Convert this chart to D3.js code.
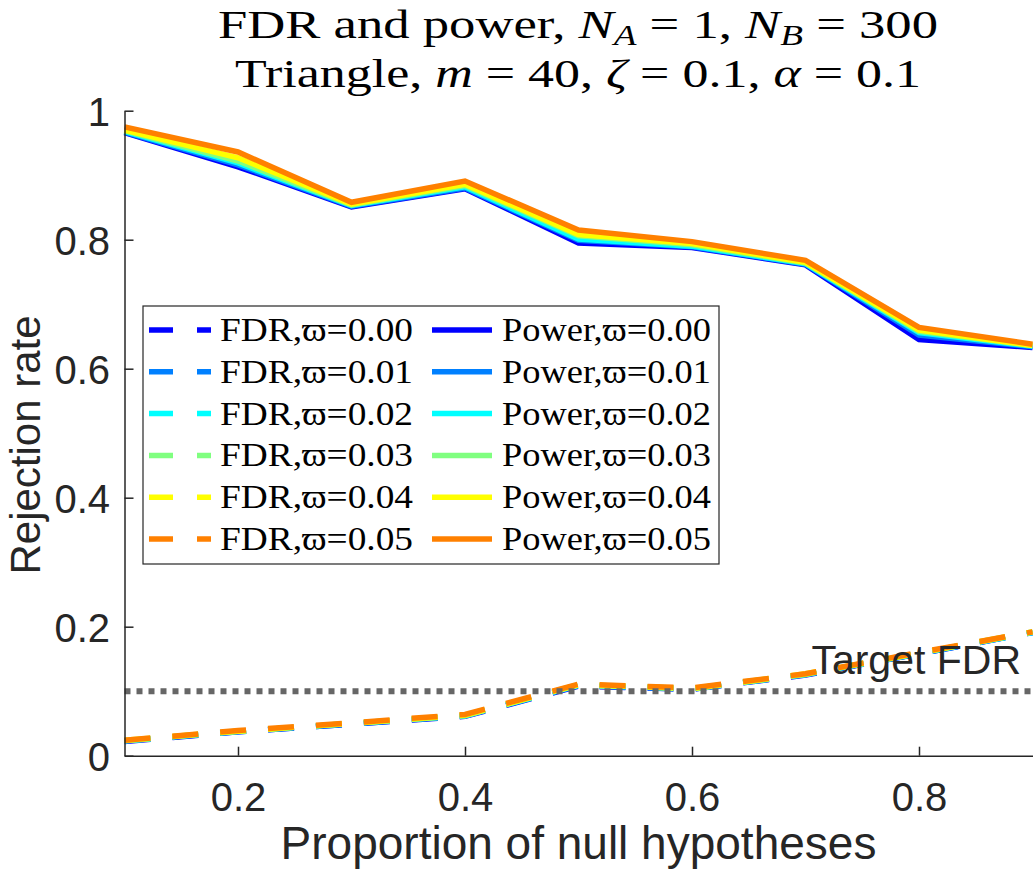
<!DOCTYPE html>
<html>
<head>
<meta charset="utf-8">
<script src="https://cdn.jsdelivr.net/npm/d3@7"></script>
<style>
  html, body { margin: 0; padding: 0; background: #fff; }
  svg { display: block; }
</style>
</head>
<body>
<div id="canvas"></div>
<script>
"use strict"

// x values: proportion of null hypotheses
let proportions = [0.1, 0.2, 0.3, 0.4, 0.5, 0.6, 0.7, 0.8, 0.9];
let varpiValues = ["0.00", "0.01", "0.02", "0.03", "0.04", "0.05"];

// FDR curves (dashed), one per varpi
let fdr000 = [0.022, 0.037, 0.049, 0.061, 0.108, 0.103, 0.125, 0.158, 0.191];
let fdr001 = [0.023, 0.037, 0.049, 0.062, 0.109, 0.103, 0.126, 0.158, 0.191];
let fdr002 = [0.023, 0.038, 0.050, 0.062, 0.109, 0.104, 0.126, 0.159, 0.191];
let fdr003 = [0.023, 0.038, 0.050, 0.062, 0.110, 0.104, 0.126, 0.159, 0.192];
let fdr004 = [0.024, 0.038, 0.050, 0.063, 0.110, 0.104, 0.127, 0.159, 0.192];
let fdr005 = [0.024, 0.039, 0.051, 0.064, 0.111, 0.105, 0.127, 0.160, 0.192];

// Power curves (solid), one per varpi
let power000 = [0.966, 0.913, 0.851, 0.879, 0.795, 0.788, 0.761, 0.645, 0.633];
let power001 = [0.967, 0.916, 0.852, 0.880, 0.799, 0.789, 0.762, 0.652, 0.634];
let power002 = [0.968, 0.919, 0.853, 0.882, 0.801, 0.790, 0.763, 0.656, 0.635];
let power003 = [0.969, 0.922, 0.854, 0.884, 0.806, 0.792, 0.764, 0.658, 0.636];
let power004 = [0.970, 0.927, 0.855, 0.886, 0.808, 0.794, 0.765, 0.660, 0.636];
let power005 = [0.975, 0.936, 0.858, 0.891, 0.815, 0.797, 0.768, 0.664, 0.638];

let targetFDR = 0.1;

let xTicks = [0.2, 0.4, 0.6, 0.8];
let xTickLabels = ["0.2", "0.4", "0.6", "0.8"];
let yTicks = [0, 0.2, 0.4, 0.6, 0.8, 1];
let yTickLabels = ["0", "0.2", "0.4", "0.6", "0.8", "1"];

let fdrSeries = [fdr000, fdr001, fdr002, fdr003, fdr004, fdr005];
let powerSeries = [power000, power001, power002, power003, power004, power005];

// jet(8) colours, first six
let colors = ["#0000ff", "#0080ff", "#00ffff", "#80ff80", "#ffff00", "#ff8000"];

let svgWidth = 1033;
let svgHeight = 878;
let axisColor = "#262626";
let sansFont = "'Liberation Sans', Arial, Helvetica, sans-serif";
let serifFont = "'Liberation Serif', 'Times New Roman', serif";

let svg = d3.select("#canvas")
    .append("svg")
    .attr("width", svgWidth)
    .attr("height", svgHeight);

let xScale = d3.scaleLinear().domain([0.1, 0.9]).range([124.5, 1032.5]);
let yScale = d3.scaleLinear().domain([0, 1]).range([755.7, 110.7]);

let line = d3.line()
    .x(function(d) { return xScale(d[0]); })
    .y(function(d) { return yScale(d[1]); });

function pairs(values) {
    return proportions.map(function(p, i) { return [p, values[i]]; });
}

// FDR dashed lines
for (let i = 0; i < fdrSeries.length; i++) {
    svg.append("path")
        .attr("d", line(pairs(fdrSeries[i])))
        .attr("fill", "none")
        .attr("stroke", colors[i])
        .attr("stroke-width", 5.5)
        .attr("stroke-dasharray", "26,22");
}

// Power solid lines
for (let i = 0; i < powerSeries.length; i++) {
    svg.append("path")
        .attr("d", line(pairs(powerSeries[i])))
        .attr("fill", "none")
        .attr("stroke", colors[i])
        .attr("stroke-width", 5.5)
        .attr("stroke-linejoin", "miter");
}

// target FDR dotted line
svg.append("line")
    .attr("x1", xScale(0.1))
    .attr("x2", xScale(0.9))
    .attr("y1", yScale(targetFDR))
    .attr("y2", yScale(targetFDR))
    .attr("stroke", "#666666")
    .attr("stroke-width", 6)
    .attr("stroke-dasharray", "6,6");

svg.append("text")
    .attr("x", 1021)
    .attr("y", 674)
    .attr("text-anchor", "end")
    .style("font-family", sansFont)
    .style("font-size", "41px")
    .attr("fill", axisColor)
    .text("Target FDR");

// axes
let xAxis = d3.axisBottom(xScale)
    .tickValues(xTicks)
    .tickFormat(function(d, i) { return xTickLabels[i]; })
    .tickSizeInner(-9)
    .tickSizeOuter(0)
    .tickPadding(27);

let yAxis = d3.axisLeft(yScale)
    .tickValues(yTicks)
    .tickFormat(function(d, i) { return yTickLabels[i]; })
    .tickSizeInner(-9)
    .tickSizeOuter(0)
    .tickPadding(14.5);

let gx = svg.append("g")
    .attr("transform", "translate(0," + yScale(0) + ")")
    .call(xAxis);

let gy = svg.append("g")
    .attr("transform", "translate(" + xScale(0.1) + ",0)")
    .call(yAxis);

[gx, gy].forEach(function(g) {
    g.select(".domain").attr("stroke", axisColor).attr("stroke-width", 1.5);
    g.selectAll(".tick line").attr("stroke", axisColor).attr("stroke-width", 1.5);
    g.selectAll(".tick text")
        .attr("fill", axisColor)
        .style("font-family", sansFont)
        .style("font-size", "40px");
});
gy.selectAll(".tick text").attr("dy", "0.36em");

// axis labels
svg.append("text")
    .attr("x", (xScale(0.1) + xScale(0.9)) / 2)
    .attr("y", 859)
    .attr("text-anchor", "middle")
    .style("font-family", sansFont)
    .style("font-size", "46px")
    .attr("fill", axisColor)
    .text("Proportion of null hypotheses");

svg.append("text")
    .attr("transform", "translate(40," + 445 + ") rotate(-90)")
    .attr("text-anchor", "middle")
    .style("font-family", sansFont)
    .style("font-size", "42px")
    .attr("fill", axisColor)
    .text("Rejection rate");

// title, two lines
let t1 = svg.append("text")
    .attr("x", 578)
    .attr("y", 38)
    .attr("text-anchor", "middle")
    .attr("textLength", 720)
    .attr("lengthAdjust", "spacingAndGlyphs")
    .style("font-family", serifFont)
    .style("font-size", "41px")
    .attr("fill", "#000");
t1.append("tspan").text("FDR and power, ");
t1.append("tspan").style("font-style", "italic").text("N");
t1.append("tspan").style("font-style", "italic").style("font-size", "29px").attr("dy", 7).text("A");
t1.append("tspan").attr("dy", -7).text(" = 1, ");
t1.append("tspan").style("font-style", "italic").text("N");
t1.append("tspan").style("font-style", "italic").style("font-size", "29px").attr("dy", 7).text("B");
t1.append("tspan").attr("dy", -7).text(" = 300");

let t2 = svg.append("text")
    .attr("x", 578)
    .attr("y", 87)
    .attr("text-anchor", "middle")
    .attr("textLength", 686)
    .attr("lengthAdjust", "spacingAndGlyphs")
    .style("font-family", serifFont)
    .style("font-size", "41px")
    .attr("fill", "#000");
t2.append("tspan").text("Triangle, ");
t2.append("tspan").style("font-style", "italic").text("m");
t2.append("tspan").text(" = 40, ");
t2.append("tspan").style("font-style", "italic").text("ζ");
t2.append("tspan").text(" = 0.1, ");
t2.append("tspan").style("font-style", "italic").text("α");
t2.append("tspan").text(" = 0.1");

// legend
let legendLeft = 143;
let legendTop = 306;
let legendWidth = 576;
let legendHeight = 258;
let rowStart = 330;
let rowStep = 41.8;

svg.append("rect")
    .attr("x", legendLeft)
    .attr("y", legendTop)
    .attr("width", legendWidth)
    .attr("height", legendHeight)
    .attr("fill", "white")
    .attr("stroke", axisColor)
    .attr("stroke-width", 1.2);

for (let i = 0; i < varpiValues.length; i++) {
    let rowY = rowStart + i * rowStep;

    // FDR entry (dashed sample)
    svg.append("line")
        .attr("x1", 149).attr("x2", 211)
        .attr("y1", rowY).attr("y2", rowY)
        .attr("stroke", colors[i])
        .attr("stroke-width", 5.5)
        .attr("stroke-dasharray", "24,24");

    svg.append("text")
        .attr("x", 220)
        .attr("y", rowY + 11)
        .attr("textLength", 193)
        .attr("lengthAdjust", "spacingAndGlyphs")
        .style("font-family", serifFont)
        .style("font-size", "34px")
        .text("FDR,ϖ=" + varpiValues[i]);

    // Power entry (solid sample)
    svg.append("line")
        .attr("x1", 432).attr("x2", 492)
        .attr("y1", rowY).attr("y2", rowY)
        .attr("stroke", colors[i])
        .attr("stroke-width", 5.5);

    svg.append("text")
        .attr("x", 502)
        .attr("y", rowY + 11)
        .attr("textLength", 209)
        .attr("lengthAdjust", "spacingAndGlyphs")
        .style("font-family", serifFont)
        .style("font-size", "34px")
        .text("Power,ϖ=" + varpiValues[i]);
}
</script>
</body>
</html>
